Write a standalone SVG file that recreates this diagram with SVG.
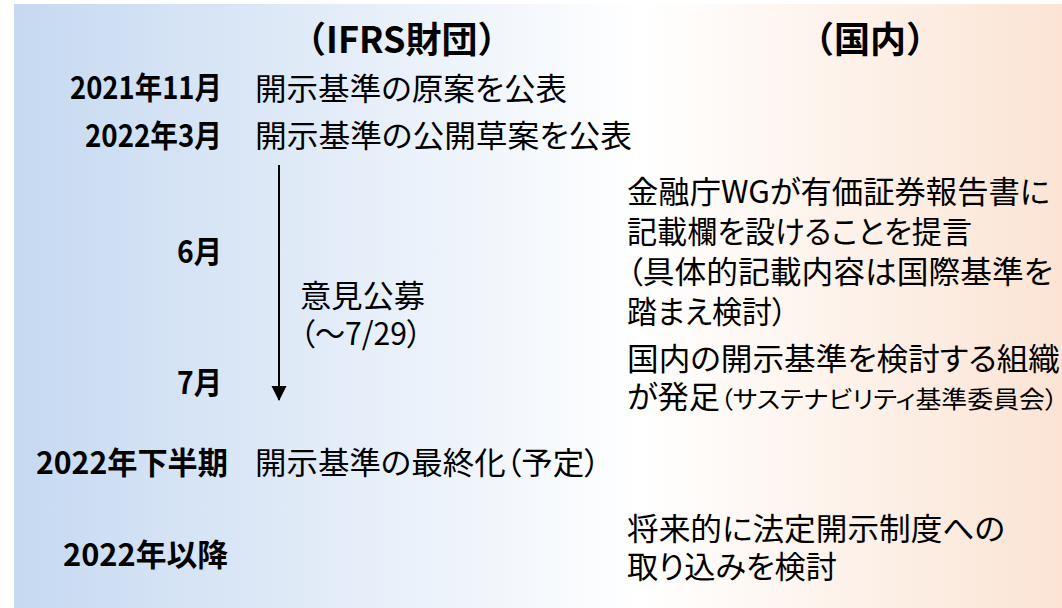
<svg xmlns="http://www.w3.org/2000/svg" width="1062" height="608" viewBox="0 0 1062 608">
<defs>
<linearGradient id="bg" x1="0" y1="0" x2="1" y2="0">
<stop offset="0" stop-color="#c6d9f1"/>
<stop offset="0.6" stop-color="#ffffff"/>
<stop offset="1" stop-color="#fbe4d4"/>
</linearGradient>
<marker id="ah" markerWidth="16" markerHeight="16" refX="14" refY="7.5" orient="auto" markerUnits="userSpaceOnUse" viewBox="0 0 16 16">
<path d="M0,0 L15,7.5 L0,15 Z" fill="#000"/>
</marker>
<style>
text{font-family:"Noto Sans CJK JP","Noto Sans",sans-serif;fill:#000;font-size:31px;font-feature-settings:"palt" 1}
.b{font-weight:bold;text-anchor:end}
.h{font-weight:bold;font-size:36px;font-feature-settings:normal}
.s{font-size:24px}
</style>
</defs>
<rect x="14" y="4" width="1048" height="604" fill="url(#bg)"/>
<g id="header-ifrs"><text class="h" x="290" y="53">（IFRS財団）</text></g>
<g id="header-domestic"><text class="h" x="870" y="53" text-anchor="middle">（国内）</text></g>
<g id="row-2021-11">
<text class="b" x="222" y="99" textLength="152" lengthAdjust="spacingAndGlyphs">2021年11月</text>
<text x="255" y="100" textLength="312" lengthAdjust="spacingAndGlyphs">開示基準の原案を公表</text>
</g>
<g id="row-2022-3">
<text class="b" x="222" y="147" textLength="137" lengthAdjust="spacingAndGlyphs">2022年3月</text>
<text x="255" y="147" textLength="377" lengthAdjust="spacingAndGlyphs">開示基準の公開草案を公表</text>
</g>
<g id="row-6">
<text class="b" x="222" y="263" textLength="45" lengthAdjust="spacingAndGlyphs">6月</text>
</g>
<g id="consultation">
<text x="300" y="307" textLength="125" lengthAdjust="spacingAndGlyphs">意見公募</text>
<text x="300" y="345" textLength="122" lengthAdjust="spacingAndGlyphs">（～7/29）</text>
</g>
<g id="row-7">
<text class="b" x="222" y="394" textLength="45" lengthAdjust="spacingAndGlyphs">7月</text>
</g>
<g id="fsa-wg">
<text x="627" y="203" textLength="423" lengthAdjust="spacingAndGlyphs">金融庁WGが有価証券報告書に</text>
<text x="627" y="243" textLength="345" lengthAdjust="spacingAndGlyphs">記載欄を設けることを提言</text>
<text x="627" y="283" textLength="426" lengthAdjust="spacingAndGlyphs">（具体的記載内容は国際基準を</text>
<text x="627" y="323" textLength="160" lengthAdjust="spacingAndGlyphs">踏まえ検討）</text>
</g>
<g id="ssbj">
<text x="627" y="370" textLength="433" lengthAdjust="spacingAndGlyphs">国内の開示基準を検討する組織</text>
<text x="627" y="408" textLength="93" lengthAdjust="spacingAndGlyphs">が発足</text>
<text class="s" x="720" y="408" textLength="338" lengthAdjust="spacingAndGlyphs">（サステナビリティ基準委員会）</text>
</g>
<g id="row-2022-h2">
<text class="b" x="228" y="474" textLength="192" lengthAdjust="spacingAndGlyphs">2022年下半期</text>
<text x="255" y="474" textLength="345" lengthAdjust="spacingAndGlyphs">開示基準の最終化（予定）</text>
</g>
<g id="row-2022-after">
<text class="b" x="228" y="566" textLength="165" lengthAdjust="spacingAndGlyphs">2022年以降</text>
</g>
<g id="future">
<text x="627" y="540" textLength="378" lengthAdjust="spacingAndGlyphs">将来的に法定開示制度への</text>
<text x="627" y="578" textLength="210" lengthAdjust="spacingAndGlyphs">取り込みを検討</text>
</g>
<g id="connectors">
<line x1="279" y1="165" x2="279" y2="400" stroke="#000" stroke-width="2" marker-end="url(#ah)"/>
</g>
</svg>
